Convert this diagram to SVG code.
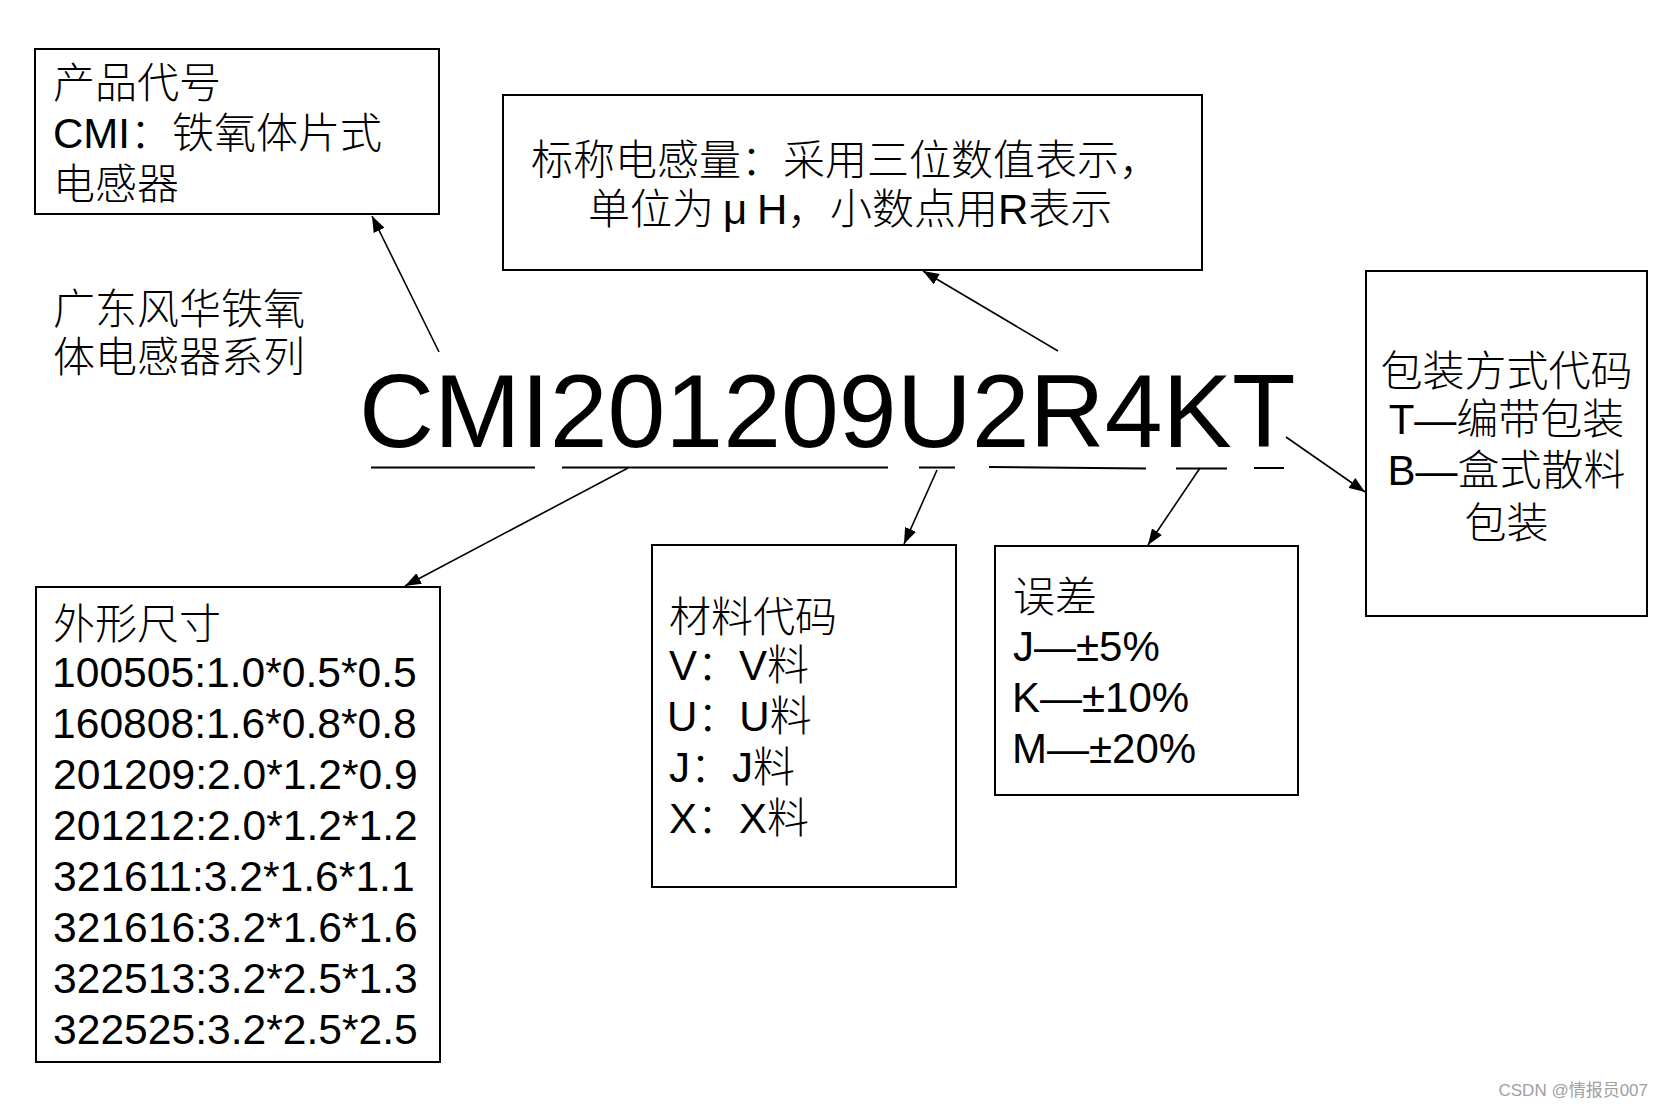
<svg xmlns="http://www.w3.org/2000/svg" width="1665" height="1108" viewBox="0 0 1665 1108">
<defs>
<style>
.box{fill:#fff;stroke:#000;stroke-width:2}
.t{font-family:"Liberation Sans","Noto Sans CJK SC",sans-serif;font-size:42px;fill:#000;font-weight:300}
.n{font-size:42.6px}
.c{text-anchor:middle}
.conn{fill:none;stroke:#000;stroke-width:1.6}
.ul{fill:none;stroke:#000;stroke-width:2}
</style>
<marker id="ah" markerUnits="userSpaceOnUse" markerWidth="16" markerHeight="12" refX="16" refY="6" orient="auto">
<path d="M0,0 L16,6 L0,12 z" fill="#000"/>
</marker>
</defs>
<rect width="1665" height="1108" fill="#fff"/>

<g id="product-code">
<rect class="box" x="35" y="49" width="404" height="165"/>
<text class="t" x="53" y="98">产品代号</text>
<text class="t" x="53" y="148">CMI：铁氧体片式</text>
<text class="t" x="53" y="199">电感器</text>
</g>

<g id="series-label">
<text class="t" x="53" y="324">广东风华铁氧</text>
<text class="t" x="53" y="372">体电感器系列</text>
</g>

<g id="inductance">
<rect class="box" x="503" y="95" width="699" height="175"/>
<text class="t" x="531" y="175">标称电感量：采用三位数值表示，</text>
<text class="t" x="588" y="224">单位为<tspan x="723">μ</tspan><tspan x="757">H，</tspan><tspan x="830">小数点用R表示</tspan></text>
</g>

<g id="part-number">
<text font-family="Liberation Sans, Arial, sans-serif" font-size="104" x="359" y="447" fill="#000">CMI201209U2R4KT</text>
<path class="ul" d="M371,467.5 H535 M562,467.5 H888 M919,467.5 H955 M989,467 L1146,468.5 M1176,468.5 H1227 M1254,468 H1284"/>
</g>

<g id="packaging">
<rect class="box" x="1366" y="271" width="281" height="345"/>
<text class="t c" x="1506.5" y="386">包装方式代码</text>
<text class="t c" x="1506.5" y="434">T—编带包装</text>
<text class="t c" x="1506.5" y="485">B—盒式散料</text>
<text class="t c" x="1506.5" y="538">包装</text>
</g>

<g id="dimensions">
<rect class="box" x="36" y="587" width="404" height="475"/>
<text class="t" x="53" y="639">外形尺寸</text>
<text class="t n" x="52" y="687">100505:1.0*0.5*0.5</text>
<text class="t n" x="52" y="738">160808:1.6*0.8*0.8</text>
<text class="t n" x="53" y="789">201209:2.0*1.2*0.9</text>
<text class="t n" x="53" y="840">201212:2.0*1.2*1.2</text>
<text class="t n" x="53" y="891">321611:3.2*1.6*1.1</text>
<text class="t n" x="53" y="942">321616:3.2*1.6*1.6</text>
<text class="t n" x="53" y="993">322513:3.2*2.5*1.3</text>
<text class="t n" x="53" y="1044">322525:3.2*2.5*2.5</text>
</g>

<g id="material">
<rect class="box" x="652" y="545" width="304" height="342"/>
<text class="t" x="669" y="632">材料代码</text>
<text class="t" x="669" y="680">V：V料</text>
<text class="t" x="667" y="731">U：U料</text>
<text class="t" x="669" y="782">J：J料</text>
<text class="t" x="669" y="833">X：X料</text>
</g>

<g id="tolerance">
<rect class="box" x="995" y="546" width="303" height="249"/>
<text class="t" x="1013" y="612">误差</text>
<text class="t" x="1013" y="661">J—±5%</text>
<text class="t" x="1012" y="712">K—±10%</text>
<text class="t" x="1012" y="763">M—±20%</text>
</g>

<g id="connectors">
<path class="conn" d="M439,352 L372,216" marker-end="url(#ah)"/>
<path class="conn" d="M1058,351 L923,271" marker-end="url(#ah)"/>
<path class="conn" d="M628,468 L405,586" marker-end="url(#ah)"/>
<path class="conn" d="M937,470 L904,544" marker-end="url(#ah)"/>
<path class="conn" d="M1200,468 L1148,545" marker-end="url(#ah)"/>
<path class="conn" d="M1286,437 L1365,492" marker-end="url(#ah)"/>
</g>

<g id="watermark">
<text font-family="Liberation Sans, Noto Sans CJK SC, sans-serif" font-size="17" fill="#a0a0a0" x="1648" y="1096" text-anchor="end">CSDN @情报员007</text>
</g>
</svg>
